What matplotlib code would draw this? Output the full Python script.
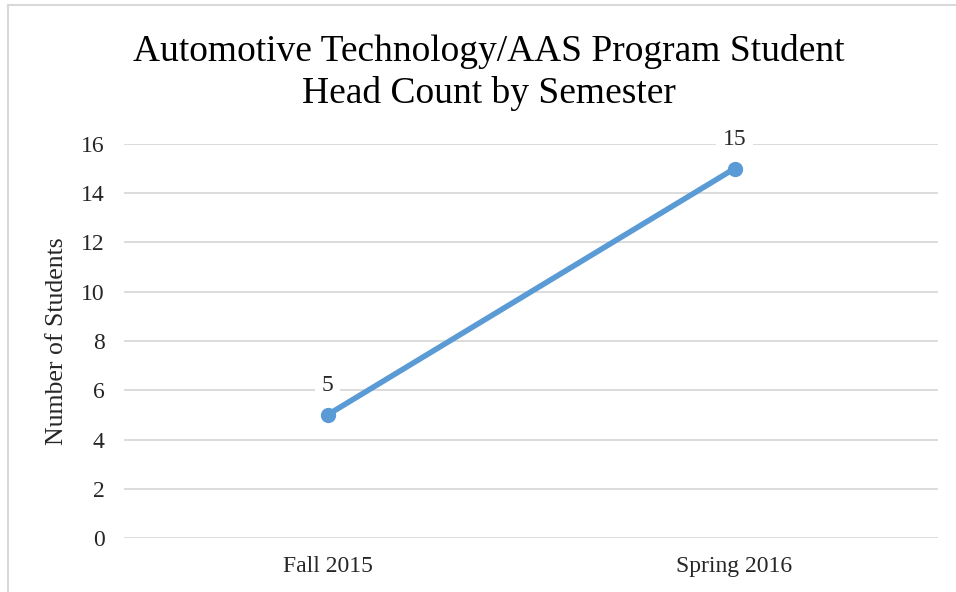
import matplotlib.pyplot as plt
from matplotlib.lines import Line2D

plt.rcParams['font.family'] = ['Liberation Serif', 'DejaVu Serif']

semesters = ["Fall 2015", "Spring 2016"]
students = [5, 15]
yticks = [0, 2, 4, 6, 8, 10, 12, 14, 16]

line_color = "#5B9BD5"
grid_color = "#D9D9D9"
text_color = "#262626"

fig = plt.figure(figsize=(9.56, 5.92), dpi=100)
ax = fig.add_axes([0.1297, 0.0912, 0.8515, 0.6656])

x = range(len(semesters))
ax.plot(x, students, color=line_color, linewidth=4, marker="o",
        markersize=10, solid_capstyle="round", zorder=3)

for xi, v in zip(x, students):
    ax.annotate(str(v), (xi, v), xytext=(0, 21), textcoords="offset points",
                ha="center", va="center", fontsize=17, color=text_color,
                bbox=dict(boxstyle="square,pad=0.3", fc="white", ec="none"),
                zorder=4)

ax.set_xlim(-0.5, 1.5)
ax.set_ylim(0, 16)
ax.set_yticks(yticks)
ax.set_xticks(list(x))
ax.set_xticklabels(semesters)
ax.tick_params(axis="both", length=0, labelsize=17, colors=text_color)
ax.tick_params(axis="y", pad=14)
ax.tick_params(axis="x", pad=13)
ax.grid(axis="y", color=grid_color, linewidth=1.3)
ax.set_axisbelow(True)
for s in ax.spines.values():
    s.set_visible(False)

ax.set_ylabel("Number of Students", fontsize=18.5, color=text_color, labelpad=9)

fig.text(0.5115, 0.877, "Automotive Technology/AAS Program Student\nHead Count by Semester",
         ha="center", va="center", fontsize=27, color="black", linespacing=1.27)

# outer chart border (only left and top visible in the crop)
fig.add_artist(Line2D([0.0079, 0.0079], [0, 0.9916], transform=fig.transFigure,
                      color="#D9D9D9", linewidth=1.5))
fig.add_artist(Line2D([0.0079, 1.0], [0.9916, 0.9916], transform=fig.transFigure,
                      color="#D9D9D9", linewidth=1.5))

fig.savefig("out.png", dpi=100)
